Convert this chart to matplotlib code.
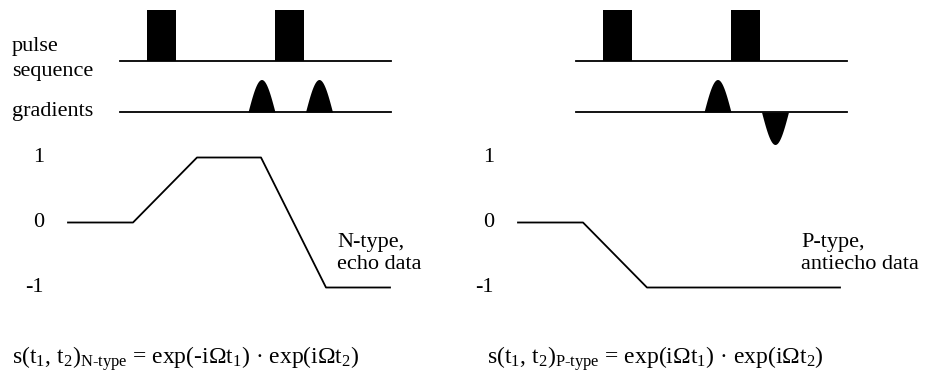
import numpy as np
import matplotlib
matplotlib.use("Agg")
import matplotlib.pyplot as plt

plt.rcParams["font.family"] = ["Liberation Serif", "DejaVu Serif"]
plt.rcParams["mathtext.fontset"] = "custom"
plt.rcParams["mathtext.rm"] = "Liberation Serif"
plt.rcParams["mathtext.it"] = "Liberation Serif:italic"

# sequence events (time axis in panel units)
pulse_times = [161.5, 289.5]
grad_times = [261.5, 319.0]
grad_sign_n = [1, 1]
grad_sign_p = [1, -1]

# coherence-order pathways
path_times = [68, 133, 197, 261, 326, 390]
levels_n = [0, 0, 1, 1, -1, -1]
levels_p = [0, 0, -1, -1, -1, -1]
level_ticks = [1, 0, -1]
level_labels = ["1", "0", "-1"]

formula_n = ("s(t$_1$, t$_2$)$_{\\mathrm{N\u2010type}}$ = "
             "exp(-i\u03a9t$_1$) \u00b7 exp(i\u03a9t$_2$)")
formula_p = ("s(t$_1$, t$_2$)$_{\\mathrm{P\u2010type}}$ = "
             "exp(i\u03a9t$_1$) \u00b7 exp(i\u03a9t$_2$)")

LW = 1.3
FS = 16
PULSE_Y, GRAD_Y = 61, 112
LEVEL_Y0, LEVEL_STEP = 222.5, 65


def level_y(lv):
    return LEVEL_Y0 - LEVEL_STEP * np.asarray(lv, dtype=float)


def draw_panel(ax, x_seq, x_path, signs, levels, tag, tag2, tag_x):
    # pulse line + pulses
    ax.plot([x_seq + 120, x_seq + 391], [PULSE_Y, PULSE_Y], color="black", lw=LW)
    for t in pulse_times:
        ax.fill_between([x_seq + t - 14.5, x_seq + t + 14.5], PULSE_Y, 10,
                        color="black", lw=0)
    # gradient line + lobes
    ax.plot([x_seq + 120, x_seq + 391], [GRAD_Y, GRAD_Y], color="black", lw=LW)
    for t, s in zip(grad_times, signs):
        u = np.linspace(0, 1, 60)
        xs = x_seq + t - 13.5 + 27 * u
        ys = GRAD_Y - s * 32.5 * np.sin(np.pi * u)
        ax.fill_between(xs, GRAD_Y, ys, color="black", lw=0)
    # coherence pathway
    ax.plot(np.asarray(path_times) + x_path, level_y(levels), color="black", lw=LW)
    for lv, lab in zip(level_ticks, level_labels):
        ax.text(x_path + 44, level_y(lv), lab, ha="right", va="center", fontsize=FS)
    ax.text(tag_x, 247, tag, ha="left", va="baseline", fontsize=FS)
    ax.text(tag_x, 269, tag2, ha="left", va="baseline", fontsize=FS)


fig = plt.figure(figsize=(9.25, 3.87), dpi=100)
ax = fig.add_axes([0, 0, 1, 1])
ax.set_xlim(0, 925)
ax.set_ylim(387, 0)
ax.axis("off")

draw_panel(ax, 0, 0, grad_sign_n, levels_n, "N-type,", "echo data", 337)
draw_panel(ax, 456, 450, grad_sign_p, levels_p, "P-type,", "antiecho data", 801)

ax.text(12, 51, "pulse", fontsize=FS, va="baseline")
ax.text(12, 76, "sequence", fontsize=FS, va="baseline")
ax.text(12, 116, "gradients", fontsize=FS, va="baseline")

ax.text(12, 364, formula_n, fontsize=17, va="baseline")
ax.text(487, 364, formula_p, fontsize=17, va="baseline")

fig.savefig("out.png", dpi=100)
